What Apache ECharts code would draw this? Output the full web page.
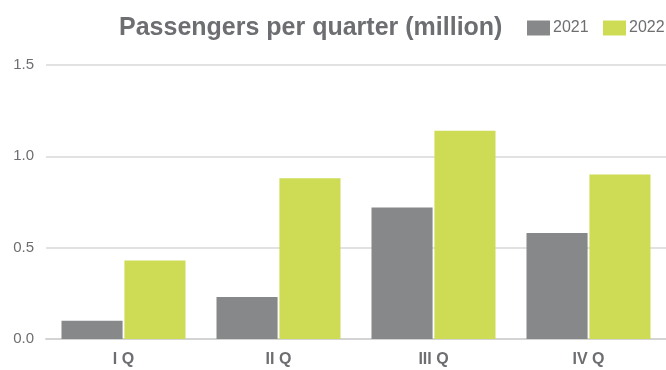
<!DOCTYPE html>
<html>
<head>
<meta charset="utf-8">
<script src="https://cdn.jsdelivr.net/npm/echarts@6/dist/echarts.min.js"></script>
<style>
  html, body { margin: 0; padding: 0; background: #ffffff; }
  #chart { width: 666px; height: 370px; }
</style>
</head>
<body>
<div id="chart"></div>
<script>
// Quarterly passenger counts, in millions
const quarters = ['I Q', 'II Q', 'III Q', 'IV Q'];
const seriesNames = ['2021', '2022'];
const values2021 = [0.10, 0.23, 0.72, 0.58];
const values2022 = [0.43, 0.88, 1.14, 0.90];
const yTicks = [0, 0.5, 1.0, 1.5];

const chart = echarts.init(document.getElementById('chart'), null, { renderer: 'canvas' });

const textGray = '#6d6e71';
const font = '"Liberation Sans", Arial, sans-serif';

// one legend entry per year, placed side by side to the right of the title
function legendFor(name, left) {
  return {
    data: [name],
    left: left,
    top: 20,
    padding: 0,
    itemWidth: 23,
    itemHeight: 15,
    icon: 'rect',
    textStyle: {
      fontFamily: font,
      fontSize: 16,
      color: textGray,
      padding: [0, 0, 0, -2]
    }
  };
}

chart.setOption({
  animation: false,
  title: {
    text: 'Passengers per quarter (million)',
    left: 114,
    top: 11,
    textStyle: {
      fontFamily: font,
      fontWeight: 'bold',
      fontSize: 25,
      color: textGray
    }
  },
  legend: [legendFor(seriesNames[0], 527), legendFor(seriesNames[1], 603)],
  grid: { left: 46, right: 0, top: 65, bottom: 31, containLabel: false },
  xAxis: {
    type: 'category',
    data: quarters,
    axisTick: { show: false },
    axisLine: { lineStyle: { color: '#d4d4d4', width: 2 } },
    axisLabel: {
      margin: 13,
      fontFamily: font,
      fontWeight: 'bold',
      fontSize: 16,
      color: textGray
    }
  },
  yAxis: {
    type: 'value',
    min: yTicks[0],
    max: yTicks[yTicks.length - 1],
    interval: 0.5,
    axisLine: { show: false },
    axisTick: { show: false },
    splitLine: { lineStyle: { color: '#d9d9d9', width: 1.5 } },
    axisLabel: {
      margin: 12,
      fontFamily: font,
      fontSize: 15,
      color: textGray,
      formatter: v => v.toFixed(1)
    }
  },
  series: [
    {
      name: seriesNames[0],
      type: 'bar',
      data: values2021,
      itemStyle: { color: '#878889' },
      barGap: '3%',
      barCategoryGap: '20%'
    },
    {
      name: seriesNames[1],
      type: 'bar',
      data: values2022,
      itemStyle: { color: '#cddc54' },
      barGap: '3%',
      barCategoryGap: '20%'
    }
  ]
});
</script>
</body>
</html>
